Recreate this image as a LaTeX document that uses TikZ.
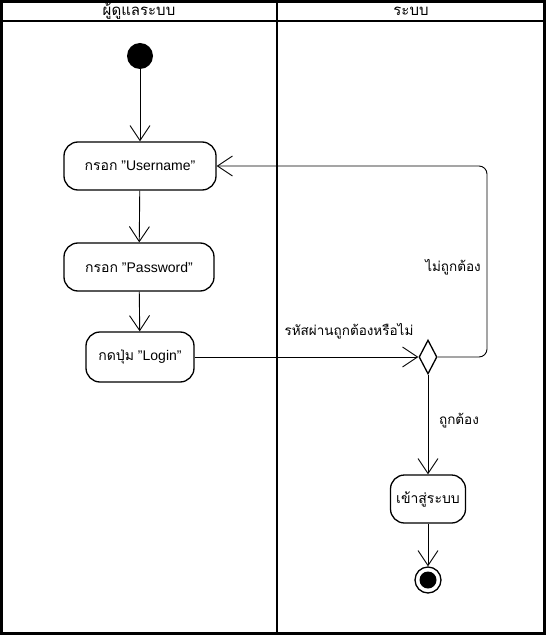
\documentclass[tikz,border=0pt]{standalone}
\usepackage{fontspec}
\setmainfont{Liberation Sans}
\newfontfamily\thai[Script=Thai]{Loma}
\usetikzlibrary{shapes.geometric,arrows.meta}
\begin{document}
\begin{tikzpicture}[x=1pt,y=-1pt,
  act/.style={draw,line width=1.3pt,rounded corners=14pt,minimum height=48pt,align=center,font=\fontsize{14}{16}\selectfont,fill=white},
  flow/.style={line width=0.9pt,-{Straight Barb[length=15pt,width=20pt,line width=0.9pt]}},
  lane/.style={line width=2.4pt},
  lbl/.style={font=\fontsize{13.5}{16}\selectfont\thai}
]
\useasboundingbox (0,0) rectangle (546,636);
% swimlanes
\draw[lane] (1.5,1.5) rectangle (544.5,633.5);
\draw[lane] (277,1.5) -- (277,633.5);
\draw[line width=2pt] (1.5,21) -- (544.5,21);
\node[font=\fontsize{15}{16}\selectfont\thai] (h1) at (139,11) {ผู้ดูแลระบบ};
\node[font=\fontsize{15}{16}\selectfont\thai] (h2) at (411,11) {ระบบ};
% nodes
\node[circle,fill=black,minimum size=26pt,inner sep=0pt] (start) at (140,56) {};
\node[act,minimum width=152pt] (user) at (140,166) {{\thai กรอก} "Username"};
\node[act,minimum width=150pt] (pass) at (139,267) {{\thai กรอก} "Password"};
\node[act,minimum width=108pt,minimum height=50pt] (login) at (140,357) {{\thai กดปุ่ม} "Login"};
\node[diamond,draw,line width=1.3pt,minimum width=18pt,minimum height=34pt,inner sep=0pt,fill=white] (dec) at (428,357) {};
\node[act,minimum width=75pt,font=\fontsize{14}{16}\selectfont\thai] (enter) at (428,499) {เข้าสู่ระบบ};
\node[circle,draw,line width=1.3pt,minimum size=26pt,inner sep=0pt] (end) at (428,580) {};
\node[circle,fill=black,minimum size=17pt,inner sep=0pt] (endin) at (end) {};
% connectors
\draw[flow] (start) -- (user);
\draw[flow] (user) -- (pass);
\draw[flow] (pass) -- (login);
\draw[flow] (login) -- (dec);
\draw[flow,rounded corners=8pt] (dec.east) -- (487,357) -- (487,166) -- (user.east);
\draw[flow] (dec) -- (enter);
\draw[flow] (enter) -- (end);
% labels
\node[lbl] (l1) at (349,331) {รหัสผ่านถูกต้องหรือไม่};
\node[lbl] (l2) at (453,267) {ไม่ถูกต้อง};
\node[lbl] (l3) at (459,421) {ถูกต้อง};
\end{tikzpicture}
\end{document}
